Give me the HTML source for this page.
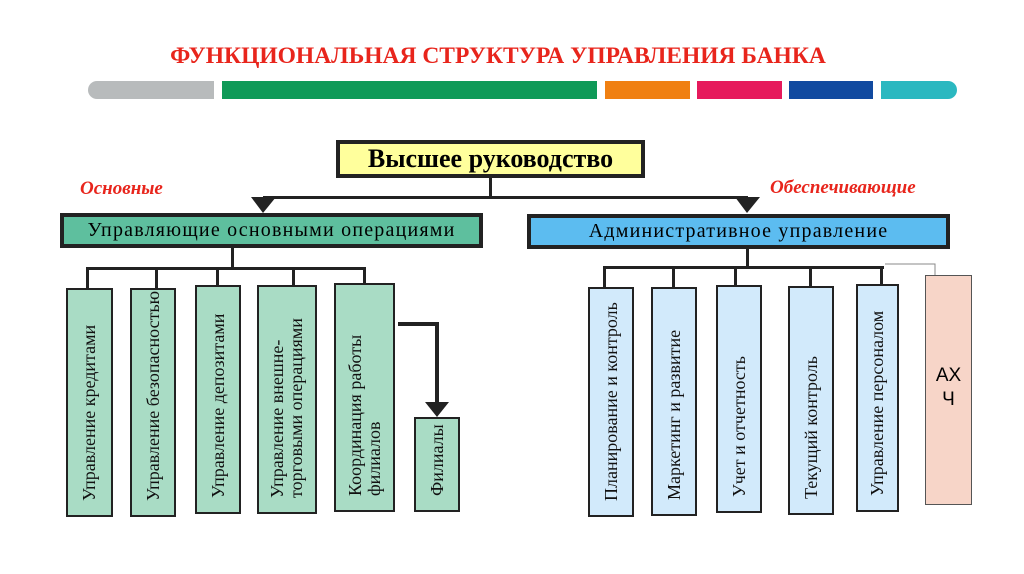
<!DOCTYPE html>
<html><head><meta charset="utf-8"><style>
body{margin:0;width:1024px;height:574px;background:#fff;position:relative;overflow:hidden;font-family:"Liberation Serif",serif}
.a{position:absolute;box-sizing:border-box}
.bar{position:absolute;top:81px;height:18px}
.v{position:absolute;box-sizing:border-box;border:2.5px solid #222;display:flex;align-items:center}
.v span{writing-mode:vertical-rl;transform:rotate(180deg);font-size:18px;line-height:19px;text-align:left;height:100%;box-sizing:border-box;padding-top:14px;color:#111;margin:0 auto;white-space:nowrap}
.g{background:#a9dcc5}.b{background:#d2eafb}
.l{position:absolute;background:#222}
</style></head><body>
<div class="a" style="left:0;top:43px;width:996px;text-align:center;color:#e8251c;font-weight:bold;font-size:23.5px;font-family:'Liberation Serif',serif">ФУНКЦИОНАЛЬНАЯ СТРУКТУРА УПРАВЛЕНИЯ БАНКА</div>
<div class="bar" style="left:88px;width:126px;background:#b8bbbc;border-radius:9px 0 0 9px"></div>
<div class="bar" style="left:222px;width:375px;background:#0f9a58"></div>
<div class="bar" style="left:605px;width:85px;background:#f08012"></div>
<div class="bar" style="left:697px;width:85px;background:#e61a5c"></div>
<div class="bar" style="left:789px;width:84px;background:#114aa0"></div>
<div class="bar" style="left:881px;width:76px;background:#2bb8c0;border-radius:0 9px 9px 0"></div>

<div class="a" style="left:336px;top:140px;width:309px;height:38px;background:#ffff9c;border:4px solid #222;text-align:center;font-weight:bold;font-size:26px;line-height:29px;white-space:nowrap">Высшее руководство</div>
<div class="l" style="left:489px;top:178px;width:3px;height:20px"></div>
<div class="l" style="left:263px;top:196px;width:485px;height:3px"></div>
<svg class="a" style="left:0;top:0" width="1024" height="574">
<polygon points="251,197 276,197 263,213" fill="#222"/>
<polygon points="735,197 760,197 747,213" fill="#222"/>
<polyline points="398,324 437,324 437,404" fill="none" stroke="#222" stroke-width="4"/>
<polygon points="425,402 449,402 437,417" fill="#222"/>
<polyline points="885,264 935,264 935,275" fill="none" stroke="#888" stroke-width="1"/>
</svg>
<div class="a" style="left:80px;top:178px;color:#e8251c;font-style:italic;font-weight:bold;font-size:19px;white-space:nowrap">Основные</div>
<div class="a" style="left:770px;top:177px;color:#e8251c;font-style:italic;font-weight:bold;font-size:19px;white-space:nowrap">Обеспечивающие</div>

<div class="a" style="left:60px;top:213px;width:423px;height:35px;background:#5ebf9e;border:4px solid #222;text-align:center;font-size:20px;line-height:26px;letter-spacing:1.2px;white-space:nowrap">Управляющие основными операциями</div>
<div class="a" style="left:527px;top:214px;width:423px;height:35px;background:#5cbcf0;border:4px solid #222;text-align:center;font-size:20px;line-height:26px;letter-spacing:1.2px;white-space:nowrap">Административное управление</div>

<div class="l" style="left:231px;top:247px;width:3px;height:22px"></div>
<div class="l" style="left:86px;top:267px;width:280px;height:3px"></div>
<div class="l" style="left:86px;top:267px;width:3px;height:21px"></div>
<div class="l" style="left:155px;top:267px;width:3px;height:21px"></div>
<div class="l" style="left:216px;top:267px;width:3px;height:18px"></div>
<div class="l" style="left:292px;top:267px;width:3px;height:18px"></div>
<div class="l" style="left:363px;top:267px;width:3px;height:16px"></div>

<div class="v g" style="left:66px;top:288px;width:47px;height:229px"><span>Управление кредитами</span></div>
<div class="v g" style="left:130px;top:288px;width:46px;height:229px"><span>Управление безопасностью</span></div>
<div class="v g" style="left:195px;top:285px;width:46px;height:229px"><span>Управление депозитами</span></div>
<div class="v g" style="left:257px;top:285px;width:60px;height:229px"><span>Управление внешне-<br>торговыми операциями</span></div>
<div class="v g" style="left:334px;top:283px;width:61px;height:229px"><span>Координация работы<br>филиалов</span></div>
<div class="v g" style="left:414px;top:417px;width:46px;height:95px"><span>Филиалы</span></div>

<div class="l" style="left:746px;top:249px;width:3px;height:19px"></div>
<div class="l" style="left:603px;top:266px;width:281px;height:3px"></div>
<div class="l" style="left:603px;top:266px;width:3px;height:21px"></div>
<div class="l" style="left:672px;top:266px;width:3px;height:21px"></div>
<div class="l" style="left:734px;top:266px;width:3px;height:19px"></div>
<div class="l" style="left:809px;top:266px;width:3px;height:20px"></div>
<div class="l" style="left:880px;top:266px;width:3px;height:18px"></div>

<div class="v b" style="left:588px;top:287px;width:46px;height:230px"><span>Планирование и контроль</span></div>
<div class="v b" style="left:651px;top:287px;width:46px;height:229px"><span>Маркетинг и развитие</span></div>
<div class="v b" style="left:716px;top:285px;width:46px;height:228px"><span>Учет и отчетность</span></div>
<div class="v b" style="left:788px;top:286px;width:46px;height:229px"><span>Текущий контроль</span></div>
<div class="v b" style="left:856px;top:284px;width:43px;height:228px"><span>Управление персоналом</span></div>
<div class="a" style="left:925px;top:275px;width:47px;height:230px;background:#f7d5c8;border:1.5px solid #555;font-family:'Liberation Sans',sans-serif;font-size:19px;text-align:center;padding-top:88px;line-height:24px">АХ<br>Ч</div>
</body></html>
